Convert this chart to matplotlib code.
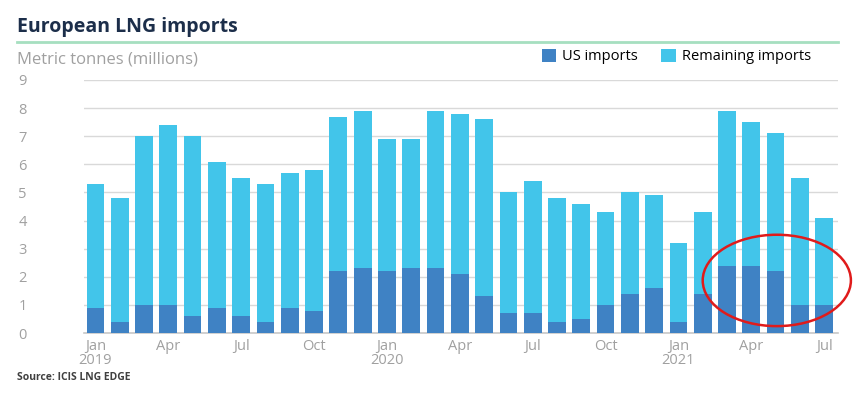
# European LNG imports - stacked monthly bars
import matplotlib.pyplot as plt
from matplotlib.patches import Ellipse
import numpy as np

plt.rcParams['font.family'] = ['Open Sans', 'DejaVu Sans']

# Data (million tonnes), Jan 2019 .. Jul 2021
months = ['Jan\n2019', 'Feb', 'Mar', 'Apr', 'May', 'Jun', 'Jul', 'Aug', 'Sep', 'Oct', 'Nov', 'Dec',
          'Jan\n2020', 'Feb', 'Mar', 'Apr', 'May', 'Jun', 'Jul', 'Aug', 'Sep', 'Oct', 'Nov', 'Dec',
          'Jan\n2021', 'Feb', 'Mar', 'Apr', 'May', 'Jun', 'Jul']
total = [5.3, 4.8, 7.0, 7.4, 7.0, 6.1, 5.5, 5.3, 5.7, 5.8, 7.7, 7.9,
         6.9, 6.9, 7.9, 7.8, 7.6, 5.0, 5.4, 4.8, 4.6, 4.3, 5.0, 4.9,
         3.2, 4.3, 7.9, 7.5, 7.1, 5.5, 4.1]
us = [0.9, 0.4, 1.0, 1.0, 0.6, 0.9, 0.6, 0.4, 0.9, 0.8, 2.2, 2.3,
      2.2, 2.3, 2.3, 2.1, 1.3, 0.7, 0.7, 0.4, 0.5, 1.0, 1.4, 1.6,
      0.4, 1.4, 2.4, 2.4, 2.2, 1.0, 1.0]
remaining = [t - u for t, u in zip(total, us)]

c_us = '#3f82c4'
c_rest = '#42c5ea'
grey = '#a0a0a0'

fig = plt.figure(figsize=(8.54, 3.94), dpi=100)
ax = fig.add_axes([0.0984, 0.1548, 0.8826, 0.6422])

x = np.arange(len(months))
ax.bar(x, us, width=0.73, color=c_us, label='US imports', zorder=3)
ax.bar(x, remaining, bottom=us, width=0.73, color=c_rest, label='Remaining imports', zorder=3)

ax.set_xlim(-0.47, 30.56)
ax.set_ylim(0, 9)
ax.set_yticks(range(10))
ax.grid(axis='y', color='#d9d9d9', linewidth=1.0, zorder=0)
for s in ['top', 'right', 'left']:
    ax.spines[s].set_visible(False)
ax.spines['bottom'].set_color('#c8c8c8')
ax.spines['bottom'].set_linewidth(1.2)

tick_pos = list(range(0, 31, 3))
ax.set_xticks(tick_pos)
ax.set_xticklabels([months[i] for i in tick_pos], fontsize=10.5, color=grey, linespacing=0.95)
ax.tick_params(axis='x', length=0, pad=4)
ax.tick_params(axis='y', length=0, pad=0, labelsize=10.5, labelcolor=grey)
for lbl in ax.get_yticklabels():
    lbl.set_horizontalalignment('left')
    lbl.set_x(-0.087)

# red ellipse highlight around the last US bars
ell = Ellipse((28.05, 1.87), width=6.1, height=3.25,
              fill=False, edgecolor='#e01b1b', linewidth=1.8, clip_on=False, zorder=5)
ax.add_patch(ell)

# header
fig.text(0.02, 0.918, 'European LNG imports', fontsize=14, fontweight='bold', color='#1c2e4a')
fig.add_artist(plt.Line2D([0.02, 0.981], [0.893, 0.893], color='#a6dfc0', linewidth=2))
fig.text(0.02, 0.838, 'Metric tonnes (millions)', fontsize=12, color=grey)
ax.legend(loc='lower right', bbox_to_anchor=(0.972, 1.04), ncol=2, frameon=False,
          fontsize=10.5, handlelength=1.0, handleheight=1.0, handletextpad=0.4,
          columnspacing=1.6, borderaxespad=0)
fig.text(0.02, 0.035, 'Source: ICIS LNG EDGE', fontsize=7.5, fontweight='bold', color='#404040')

plt.savefig('out.png', dpi=100)
